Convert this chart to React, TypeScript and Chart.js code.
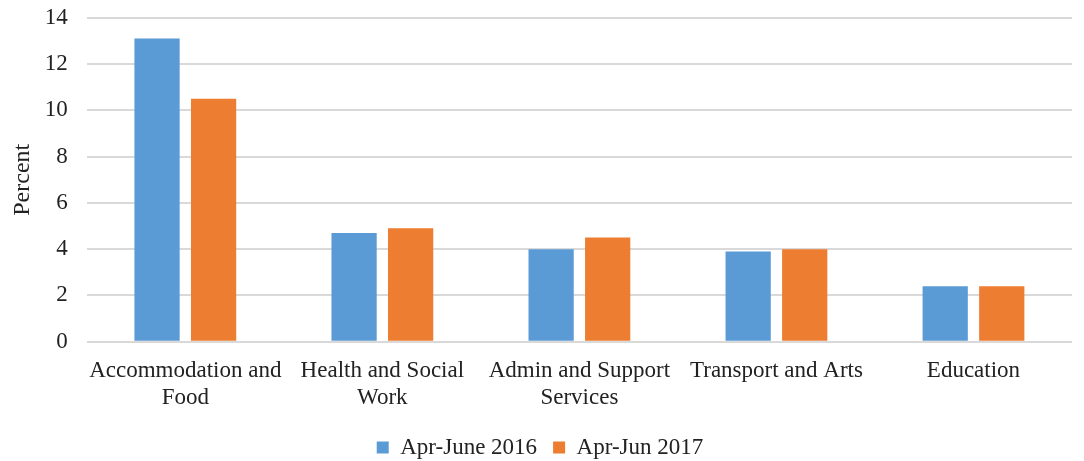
import React, { useEffect, useRef } from "react";
import { Chart, registerables } from "chart.js";

Chart.register(...registerables);

const categories: (string | string[])[] = [
  ["Accommodation and", "Food"],
  ["Health and Social", "Work"],
  ["Admin and Support", "Services"],
  "Transport and Arts",
  "Education",
];
const series2016 = [13.1, 4.7, 4.0, 3.9, 2.4];
const series2017 = [10.5, 4.9, 4.5, 4.0, 2.4];
const seriesLabels = ["Apr-June 2016", "Apr-Jun 2017"];
const seriesColors = ["#5B9BD5", "#ED7D31"];

const FONT = "'Liberation Serif', 'Times New Roman', serif";

export default function App() {
  const ref = useRef<HTMLCanvasElement | null>(null);
  useEffect(() => {
    if (!ref.current) return;
    const chart = new Chart(ref.current, {
      type: "bar",
      data: {
        labels: categories,
        datasets: [
          {
            label: seriesLabels[0],
            data: series2016,
            backgroundColor: seriesColors[0],
            borderWidth: 0,
          },
          {
            label: seriesLabels[1],
            data: series2017,
            backgroundColor: seriesColors[1],
            borderWidth: 0,
          },
        ],
      },
      options: {
        animation: false,
        responsive: false,
        maintainAspectRatio: false,
        datasets: {
          bar: { categoryPercentage: 0.574, barPercentage: 0.8 },
        },
        layout: { padding: { top: 0, right: 12, left: 8, bottom: -8 } },
        plugins: {
          tooltip: { enabled: false },
          legend: {
            position: "bottom",
            labels: {
              boxWidth: 12,
              boxHeight: 12,
              padding: 16,
              color: "#222",
              font: { family: FONT, size: 23 },
            },
          },
        },
        scales: {
          x: {
            grid: { display: false },
            border: { display: false },
            ticks: {
              color: "#222",
              font: { family: FONT, size: 23, lineHeight: 1.18 },
              maxRotation: 0,
              autoSkip: false,
              padding: 8,
            },
          },
          y: {
            min: 0,
            max: 14,
            ticks: {
              stepSize: 2,
              color: "#222",
              font: { family: FONT, size: 23 },
              padding: 4,
            },
            grid: {
              color: "#D9D9D9",
              lineWidth: 2,
              drawTicks: true,
              tickLength: 15,
              tickColor: "rgba(0,0,0,0)",
            },
            border: { display: false },
            title: {
              display: true,
              text: "Percent",
              color: "#222",
              font: { family: FONT, size: 24 },
              padding: { top: 0, bottom: 4 },
            },
          },
        },
      },
    });
    return () => chart.destroy();
  }, []);
  return (
    <div style={{ position: "fixed", left: 0, top: 0, width: 1084, height: 461, background: "#fff" }}>
      <canvas ref={ref} width={1084} height={461} style={{ display: "block" }} />
    </div>
  );
}
